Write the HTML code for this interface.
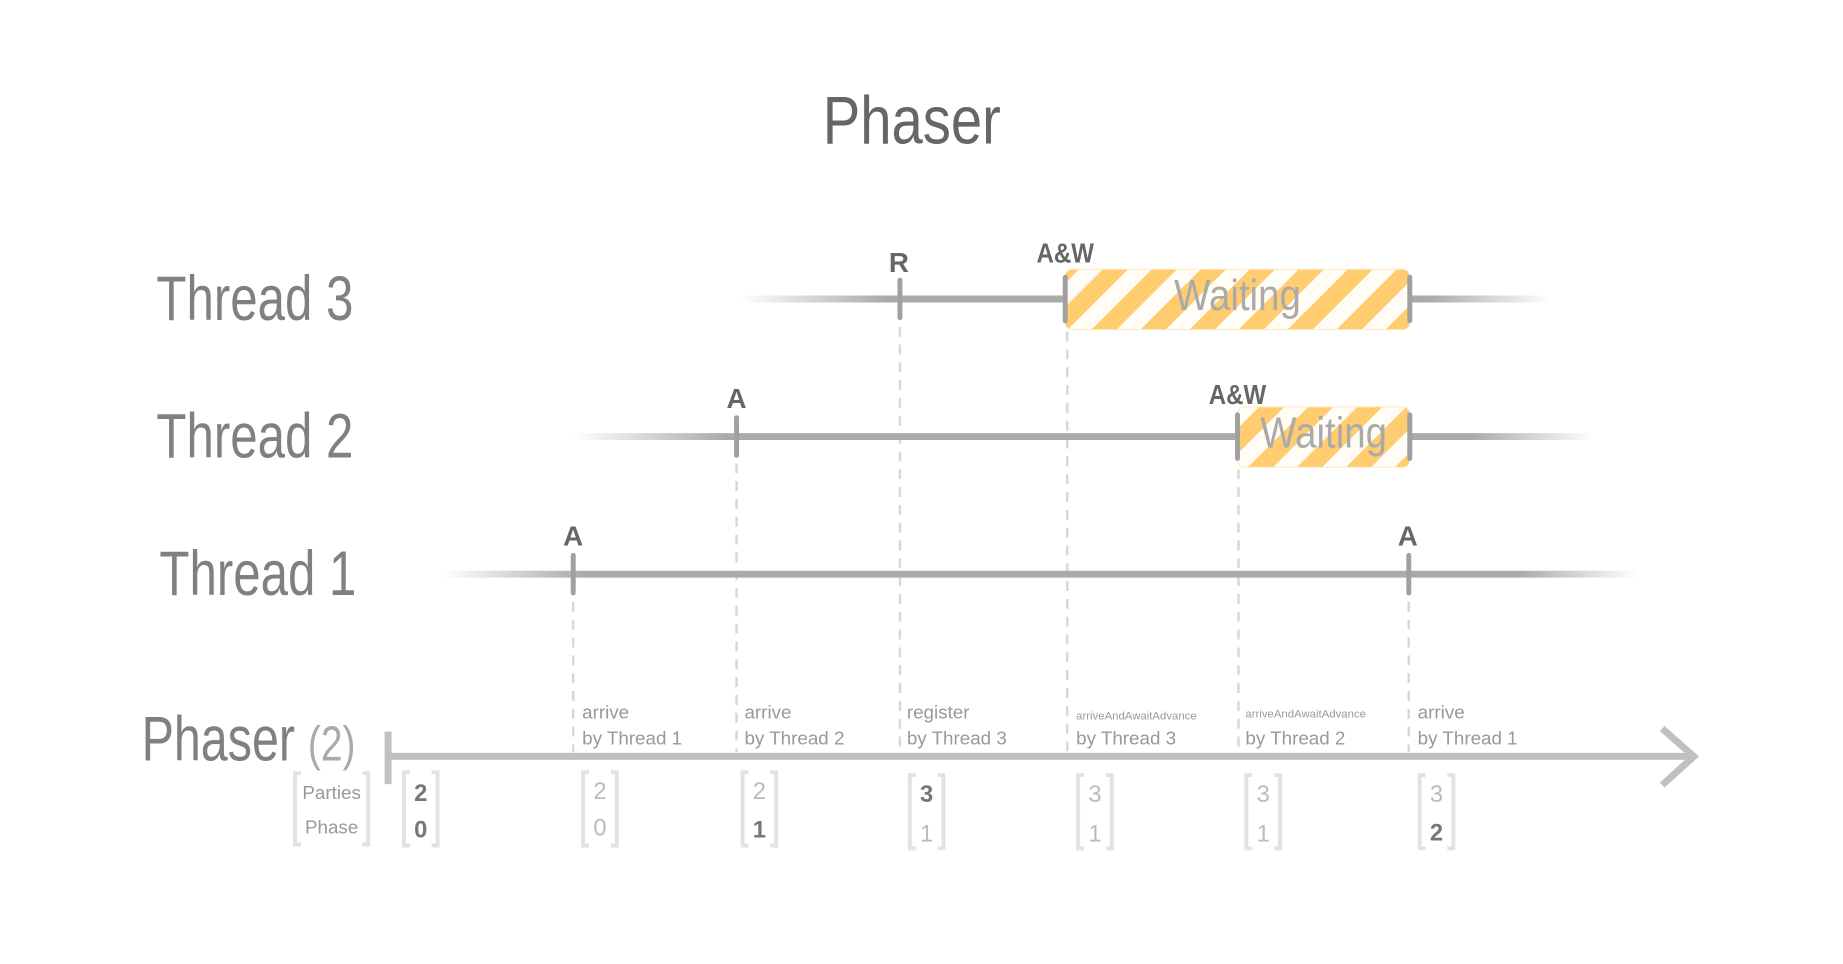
<!DOCTYPE html>
<html><head><meta charset="utf-8"><style>html,body{margin:0;padding:0;background:#fff}svg{display:block}</style></head>
<body>
<svg width="1843" height="964" viewBox="0 0 1843 964" xmlns="http://www.w3.org/2000/svg" font-family="Liberation Sans, sans-serif">
<defs>
<pattern id="st" patternUnits="userSpaceOnUse" width="35" height="35" patternTransform="rotate(45)">
<rect width="35" height="35" fill="#fffdf5"/><rect width="18" height="35" fill="#ffcc70"/>
</pattern>
<linearGradient id="g3" gradientUnits="userSpaceOnUse" x1="748" x2="1566" y1="0" y2="0"><stop offset="0" stop-color="#aaa" stop-opacity="0"/><stop offset="0.18" stop-color="#aaa"/><stop offset="0.85" stop-color="#aaa"/><stop offset="1" stop-color="#aaa" stop-opacity="0"/></linearGradient>
<linearGradient id="g2" gradientUnits="userSpaceOnUse" x1="579" x2="1610" y1="0" y2="0"><stop offset="0" stop-color="#aaa" stop-opacity="0"/><stop offset="0.15" stop-color="#aaa"/><stop offset="0.88" stop-color="#aaa"/><stop offset="1" stop-color="#aaa" stop-opacity="0"/></linearGradient>
<linearGradient id="g1" gradientUnits="userSpaceOnUse" x1="446" x2="1654" y1="0" y2="0"><stop offset="0" stop-color="#aaa" stop-opacity="0"/><stop offset="0.12" stop-color="#aaa"/><stop offset="0.9" stop-color="#aaa"/><stop offset="1" stop-color="#aaa" stop-opacity="0"/></linearGradient>
</defs>
<g transform="scale(0.99)">
<text x="921" y="145" font-size="68" fill="#666" text-anchor="middle" textLength="180" lengthAdjust="spacingAndGlyphs">Phaser</text>

<g font-size="64" fill="#808080">
<text x="158" y="323" textLength="199" lengthAdjust="spacingAndGlyphs">Thread 3</text>
<text x="158" y="462" textLength="199" lengthAdjust="spacingAndGlyphs">Thread 2</text>
<text x="161" y="601" textLength="199" lengthAdjust="spacingAndGlyphs">Thread 1</text>
<text x="143" y="768" textLength="155" lengthAdjust="spacingAndGlyphs">Phaser</text>
</g>
<text x="311" y="768" font-size="50" fill="#aaa" textLength="48" lengthAdjust="spacingAndGlyphs">(2)</text>

<g stroke="#d8d8d8" stroke-width="2.5" stroke-dasharray="10 8">
<line x1="579" y1="590" x2="579" y2="760"/>
<line x1="744" y1="450" x2="744" y2="760"/>
<line x1="909" y1="312" x2="909" y2="760"/>
<line x1="1078" y1="335" x2="1078" y2="760"/>
<line x1="1251" y1="474" x2="1251" y2="760"/>
<line x1="1423" y1="590" x2="1423" y2="760"/>
</g>

<line x1="748" y1="302" x2="1566" y2="302" stroke="url(#g3)" stroke-width="7"/>
<line x1="579" y1="441" x2="1610" y2="441" stroke="url(#g2)" stroke-width="7"/>
<line x1="446" y1="580" x2="1654" y2="580" stroke="url(#g1)" stroke-width="7"/>

<rect x="1076" y="272" width="348" height="61" rx="7" fill="url(#st)" stroke="#fde9c0" stroke-width="1"/>
<rect x="1250" y="411" width="174" height="61" rx="7" fill="url(#st)" stroke="#fde9c0" stroke-width="1"/>
<text x="1250" y="313" font-size="44" fill="#aaa" text-anchor="middle" textLength="128" lengthAdjust="spacingAndGlyphs">Waiting</text>
<text x="1337" y="452" font-size="44" fill="#aaa" text-anchor="middle" textLength="128" lengthAdjust="spacingAndGlyphs">Waiting</text>

<g stroke="#a0a0a0" stroke-width="5" stroke-linecap="round">
<line x1="909" y1="283" x2="909" y2="321"/>
<line x1="1076" y1="280" x2="1076" y2="324"/>
<line x1="1424" y1="280" x2="1424" y2="324"/>
<line x1="744" y1="422" x2="744" y2="460"/>
<line x1="1250" y1="419" x2="1250" y2="463"/>
<line x1="1424" y1="419" x2="1424" y2="463"/>
<line x1="579" y1="561" x2="579" y2="599"/>
<line x1="1423" y1="561" x2="1423" y2="599"/>
</g>
<g font-size="28" font-weight="bold" fill="#666" text-anchor="middle">
<text x="908" y="275">R</text>
<text x="1076" y="265" textLength="58" lengthAdjust="spacingAndGlyphs">A&amp;W</text>
<text x="744" y="412">A</text>
<text x="1250" y="408" textLength="58" lengthAdjust="spacingAndGlyphs">A&amp;W</text>
<text x="579" y="551">A</text>
<text x="1422" y="551">A</text>
</g>

<line x1="392" y1="764" x2="1708" y2="764" stroke="#c0c0c0" stroke-width="7"/>
<line x1="392" y1="739" x2="392" y2="792" stroke="#c0c0c0" stroke-width="7"/>
<polyline points="1679,736 1711,764 1679,793" fill="none" stroke="#c0c0c0" stroke-width="7"/>

<g font-size="19" fill="#999">
<text x="588" y="726">arrive</text><text x="588" y="752">by Thread 1</text>
<text x="752" y="726">arrive</text><text x="752" y="752">by Thread 2</text>
<text x="916" y="726">register</text><text x="916" y="752">by Thread 3</text>
<text x="1087" y="727" font-size="11.5">arriveAndAwaitAdvance</text><text x="1087" y="752">by Thread 3</text>
<text x="1258" y="725" font-size="11.5">arriveAndAwaitAdvance</text><text x="1258" y="752">by Thread 2</text>
<text x="1432" y="726">arrive</text><text x="1432" y="752">by Thread 1</text>
</g>

<g fill="none" stroke="#e2e2e2" stroke-width="4">
<path d="M304,781 h-6 v72 h6 M366,781 h6 v72 h-6"/>
<path d="M414,780 h-6 v74 h6 M436,780 h6 v74 h-6"/>
<path d="M595,780 h-6 v74 h6 M617,780 h6 v74 h-6"/>
<path d="M756,780 h-6 v74 h6 M778,780 h6 v74 h-6"/>
<path d="M925,783 h-6 v74 h6 M947,783 h6 v74 h-6"/>
<path d="M1095,783 h-6 v74 h6 M1117,783 h6 v74 h-6"/>
<path d="M1265,783 h-6 v74 h6 M1287,783 h6 v74 h-6"/>
<path d="M1440,783 h-6 v74 h6 M1462,783 h6 v74 h-6"/>
</g>
<g font-size="19" fill="#999" text-anchor="middle">
<text x="335" y="807">Parties</text><text x="335" y="842">Phase</text>
</g>
<g font-size="24" text-anchor="middle">
<text x="425" y="809" fill="#777" font-weight="bold">2</text><text x="425" y="846" fill="#777" font-weight="bold">0</text>
<text x="606" y="807" fill="#bbb">2</text><text x="606" y="844" fill="#bbb">0</text>
<text x="767" y="807" fill="#bbb">2</text><text x="767" y="846" fill="#777" font-weight="bold">1</text>
<text x="936" y="810" fill="#777" font-weight="bold">3</text><text x="936" y="850" fill="#bbb">1</text>
<text x="1106" y="810" fill="#bbb">3</text><text x="1106" y="850" fill="#bbb">1</text>
<text x="1276" y="810" fill="#bbb">3</text><text x="1276" y="850" fill="#bbb">1</text>
<text x="1451" y="810" fill="#bbb">3</text><text x="1451" y="849" fill="#777" font-weight="bold">2</text>
</g>
</g>
</svg>
</body></html>
